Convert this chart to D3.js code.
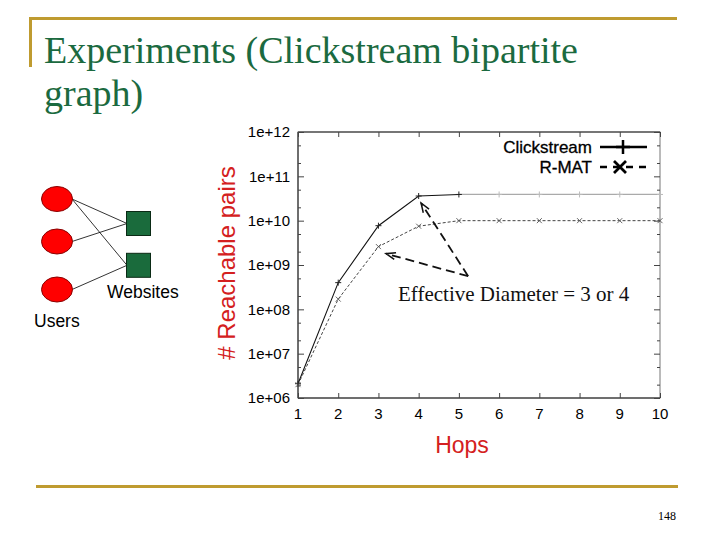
<!DOCTYPE html>
<html><head><meta charset="utf-8">
<script src="https://cdn.jsdelivr.net/npm/d3@7/dist/d3.min.js"></script>
<style>body{margin:0;background:#fff}svg{display:block}</style>
</head><body>
<svg id="c" width="720" height="540"></svg>
<script>
const hops = [1,2,3,4,5,6,7,8,9,10];
const clickstream = [2.1e6, 4.0e8, 7.7e9, 3.6e10, 3.9e10, 3.9e10, 3.9e10, 3.9e10, 3.9e10, 3.9e10];
const rmat = [2.0e6, 1.7e8, 2.6e9, 7.5e9, 1.0e10, 1.0e10, 1.0e10, 1.0e10, 1.0e10, 1.0e10];
const yTicks = [1e6,1e7,1e8,1e9,1e10,1e11,1e12];
const yTickLabels = ["1e+06","1e+07","1e+08","1e+09","1e+10","1e+11","1e+12"];
const xTickLabels = ["1","2","3","4","5","6","7","8","9","10"];
const seriesNames = ["Clickstream","R-MAT"];
const annotation = "Effective Diameter = 3 or 4";
const arrowFrom = [5.23, 5.6e8];
const arrowTips = [[4.06, 2.5e10],[3.19, 1.8e9]];
const title = ["Experiments (Clickstream bipartite","graph)"];

const svg = d3.select("#c");
const gold = "#bf9b30";
// slide decorations
svg.append("rect").attr("x",29).attr("y",17).attr("width",648).attr("height",3).attr("fill",gold);
svg.append("rect").attr("x",29).attr("y",17).attr("width",3).attr("height",50).attr("fill",gold);
svg.append("rect").attr("x",36).attr("y",485).attr("width",642).attr("height",3).attr("fill",gold);
const tt = svg.append("text").attr("font-family","Liberation Serif, Times New Roman, serif").attr("font-size",38).attr("fill","#1b6a40");
tt.selectAll("tspan").data(title).join("tspan").attr("x",44).attr("y",(d,i)=>63+i*43).text(d=>d);
svg.append("text").attr("x",676).attr("y",520).attr("text-anchor","end").attr("font-family","Liberation Serif, serif").attr("font-size",12).text("148");

// bipartite diagram
const users = [199, 241.5, 289.5];
const sites = [223.5, 265.3];
const edges = [[0,0],[0,1],[1,0],[2,1]];
svg.selectAll("line.edge").data(edges).join("line").attr("class","edge")
  .attr("x1",72).attr("y1",d=>users[d[0]]).attr("x2",127).attr("y2",d=>sites[d[1]])
  .attr("stroke","#000").attr("stroke-width",0.8);
svg.selectAll("ellipse.u").data(users).join("ellipse").attr("class","u")
  .attr("cx",57).attr("cy",d=>d).attr("rx",15.5).attr("ry",12.5)
  .attr("fill","#ff0000").attr("stroke","#8a0000").attr("stroke-width",1);
svg.selectAll("rect.s").data(sites).join("rect").attr("class","s")
  .attr("x",126.5).attr("y",d=>d-12).attr("width",24).attr("height",24)
  .attr("fill","#1a6b3c").attr("stroke","#0a2a15").attr("stroke-width",1);
svg.append("text").attr("x",107).attr("y",298).attr("font-family","Liberation Sans, Arial, sans-serif").attr("font-size",17.5).text("Websites");
svg.append("text").attr("x",34).attr("y",327).attr("font-family","Liberation Sans, Arial, sans-serif").attr("font-size",17.5).text("Users");

// chart
const L=298, R=660, T=132, B=398;
const x = d3.scaleLinear().domain([1,10]).range([L,R]);
const y = d3.scaleLog().domain([1e6,1e12]).range([B,T]);
const font = "Liberation Sans, Arial, sans-serif";

// frame
svg.append("rect").attr("x",L).attr("y",T).attr("width",R-L).attr("height",B-T).attr("fill","none").attr("stroke","#777").attr("stroke-width",1);
svg.append("line").attr("x1",L).attr("x2",L).attr("y1",T).attr("y2",B).attr("stroke","#222");
svg.append("line").attr("x1",L).attr("x2",R).attr("y1",B).attr("y2",B).attr("stroke","#222");
svg.append("line").attr("x1",L).attr("x2",R).attr("y1",T).attr("y2",T).attr("stroke","#333");

// y ticks inward, both sides
const yAxisL = d3.axisRight(y).tickValues(yTicks).tickSize(6).tickFormat("");
const yAxisR = d3.axisLeft(y).tickValues(yTicks).tickSize(6).tickFormat("");
const minor = [];
yTicks.slice(0,-1).forEach(v=>{minor.push(v*2);minor.push(v*5);});
svg.append("g").attr("transform",`translate(${L},0)`).call(yAxisL);
svg.append("g").attr("transform",`translate(${R},0)`).call(yAxisR);
svg.append("g").attr("transform",`translate(${L},0)`).call(d3.axisRight(y).tickValues(minor).tickSize(3).tickFormat(""));
svg.append("g").attr("transform",`translate(${R},0)`).call(d3.axisLeft(y).tickValues(minor).tickSize(3).tickFormat(""));
svg.append("g").attr("transform",`translate(0,${B})`).call(d3.axisTop(x).tickValues(hops).tickSize(5).tickFormat(""));
svg.append("g").attr("transform",`translate(0,${T})`).call(d3.axisBottom(x).tickValues(hops).tickSize(5).tickFormat(""));
svg.selectAll(".domain").remove();
svg.selectAll(".tick line").attr("stroke","#444");

svg.append("g").selectAll("text").data(yTicks).join("text")
  .attr("x",290).attr("y",d=>y(d)).attr("dy","0.35em").attr("text-anchor","end")
  .attr("font-family",font).attr("font-size",15).text((d,i)=>yTickLabels[i]);
svg.append("g").selectAll("text").data(hops).join("text")
  .attr("x",d=>x(d)).attr("y",419).attr("text-anchor","middle")
  .attr("font-family",font).attr("font-size",15).text((d,i)=>xTickLabels[i]);

// axis titles
svg.append("text").attr("transform","translate(235,263) rotate(-90)").attr("text-anchor","middle")
  .attr("font-family",font).attr("font-size",24).attr("fill","#d42020").text("# Reachable pairs");
svg.append("text").attr("x",462).attr("y",453).attr("text-anchor","middle")
  .attr("font-family",font).attr("font-size",23).attr("fill","#d42020").text("Hops");

// series
const line = d3.line().x(d=>x(d[0])).y(d=>y(d[1]));
const cs = hops.map((h,i)=>[h,clickstream[i]]);
const rm = hops.map((h,i)=>[h,rmat[i]]);
svg.append("path").attr("d",line(cs.slice(4))).attr("fill","none").attr("stroke","#aaa").attr("stroke-width",1.2);
svg.append("path").attr("d",line(cs.slice(0,5))).attr("fill","none").attr("stroke","#111").attr("stroke-width",1.1);
svg.append("path").attr("d",line(rm)).attr("fill","none").attr("stroke","#444").attr("stroke-width",1).attr("stroke-dasharray","3,2");
const plus = (g,px,py,s,c,w)=>{g.append("path").attr("d",`M${px-s},${py}H${px+s}M${px},${py-s}V${py+s}`).attr("stroke",c).attr("stroke-width",w);};
const cross = (g,px,py,s,c,w)=>{g.append("path").attr("d",`M${px-s},${py-s}L${px+s},${py+s}M${px-s},${py+s}L${px+s},${py-s}`).attr("stroke",c).attr("stroke-width",w);};
const mg = svg.append("g");
cs.forEach((d,i)=>plus(mg,x(d[0]),y(d[1]),3,i<5?"#222":"#bbb",1));
rm.forEach(d=>cross(mg,x(d[0]),y(d[1]),2.5,"#555",0.9));

// annotation arrows
const ag = svg.append("g");
arrowTips.forEach(t=>{
  const x0=x(arrowFrom[0]), y0=y(arrowFrom[1]), x1=x(t[0]), y1=y(t[1]);
  ag.append("line").attr("x1",x0).attr("y1",y0).attr("x2",x1).attr("y2",y1)
    .attr("stroke","#111").attr("stroke-width",1.8).attr("stroke-dasharray","9,5");
  const a=Math.atan2(y1-y0,x1-x0), h=10, s=0.35;
  ag.append("path").attr("d",`M${x1-h*Math.cos(a-s)},${y1-h*Math.sin(a-s)}L${x1},${y1}L${x1-h*Math.cos(a+s)},${y1-h*Math.sin(a+s)}`)
    .attr("fill","none").attr("stroke","#111").attr("stroke-width",1.5);
});
svg.append("text").attr("x",398).attr("y",301).attr("font-family","Liberation Serif, Times New Roman, serif")
  .attr("font-size",21).attr("fill","#111").text(annotation);

// legend
const lg = svg.append("g");
const ly = [147, 167];
lg.selectAll("text").data(seriesNames).join("text").attr("x",592).attr("y",(d,i)=>ly[i]).attr("dy","0.36em")
  .attr("text-anchor","end").attr("font-family",font).attr("font-size",17).attr("stroke","#000").attr("stroke-width",0.3).text(d=>d);
lg.append("line").attr("x1",600).attr("x2",647).attr("y1",ly[0]).attr("y2",ly[0]).attr("stroke","#000").attr("stroke-width",2.5);
plus(lg,623,ly[0],7,"#000",2.5);
lg.append("line").attr("x1",600).attr("x2",647).attr("y1",ly[1]).attr("y2",ly[1]).attr("stroke","#000").attr("stroke-width",2.5).attr("stroke-dasharray","7,6");
cross(lg,620,ly[1],6,"#000",2.8);
</script>
</body></html>
